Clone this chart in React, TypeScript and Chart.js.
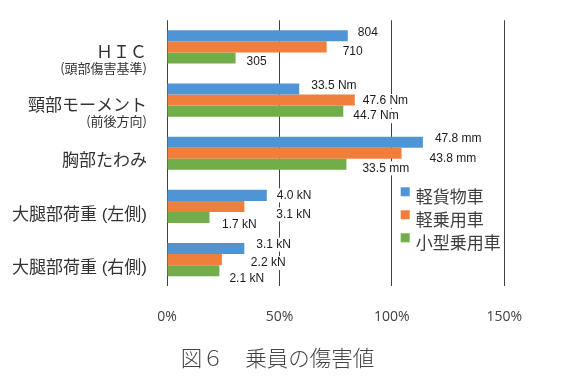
import React, { useEffect, useRef } from 'react';
import { Chart, registerables } from 'chart.js';

Chart.register(...registerables);

// ---- data ----
const categoryMain = ['ＨＩＣ', '頸部モーメント', '胸部たわみ', '大腿部荷重 (左側)', '大腿部荷重 (右側)'];
const categorySub = ['(頭部傷害基準)', '(前後方向)', '', '', ''];
const seriesNames = ['軽貨物車', '軽乗用車', '小型乗用車'];
// percentage of the injury criterion
const keiCargo = [80.4, 58.8, 113.8, 44.4, 34.4];
const keiPassenger = [71.0, 83.5, 104.3, 34.4, 24.4];
const smallPassenger = [30.5, 78.4, 79.8, 18.9, 23.3];
// actual measured values shown as labels
const keiCargoLabels = ['804', '33.5 Nm', '47.8 mm', '4.0 kN', '3.1 kN'];
const keiPassengerLabels = ['710', '47.6 Nm', '43.8 mm', '3.1 kN', '2.2 kN'];
const smallPassengerLabels = ['305', '44.7 Nm', '33.5 mm', '1.7 kN', '2.1 kN'];
const xTickValues = [0, 50, 100, 150];
const titleText = '図６　乗員の傷害値';

// ---- style / layout ----
const seriesColors = ['#4f95d6', '#f07f3c', '#72ad4b'];
const valueLabels = [keiCargoLabels, keiPassengerLabels, smallPassengerLabels];
// label nudge relative to bar end / bar centre [dx, dy]
const labelNudges = [
  [[10, -3.5], [12, -3], [12, -3], [10, 0], [12, -4]],
  [[16, 5], [8, 1], [28, 5], [32, 8], [29, 3.5]],
  [[11, 4], [10, 5], [16, 4], [12.5, 7], [10, 8]],
];
const CJK = "'Noto Sans CJK JP', sans-serif";
const LATIN_CJK = "'Liberation Sans', 'Noto Sans CJK JP', sans-serif";

const overlayPlugin = {
  id: 'overlay',
  afterDatasetsDraw(chart: any) {
    const ctx = chart.ctx as CanvasRenderingContext2D;
    const area = chart.chartArea;
    const yScale = chart.scales.y;
    ctx.save();

    // value labels
    ctx.font = "12px 'Liberation Sans', Arial, sans-serif";
    ctx.textBaseline = 'middle';
    ctx.textAlign = 'left';
    chart.data.datasets.forEach((_ds: any, di: number) => {
      const meta = chart.getDatasetMeta(di);
      meta.data.forEach((bar: any, i: number) => {
        const [dx, dy] = labelNudges[di][i];
        const text = valueLabels[di][i];
        const x = bar.x + dx;
        const y = bar.y + dy;
        const w = ctx.measureText(text).width;
        ctx.fillStyle = '#ffffff';
        ctx.fillRect(x - 2, y - 7, w + 4, 14);
        ctx.fillStyle = '#1a1a1a';
        ctx.fillText(text, x, y);
      });
    });

    // category labels
    ctx.textAlign = 'right';
    ctx.fillStyle = '#333333';
    categoryMain.forEach((label, i) => {
      const cy = yScale.getPixelForValue(i);
      const hasSub = categorySub[i] !== '';
      ctx.font = `17px ${LATIN_CJK}`;
      ctx.fillText(label, area.left - 20, cy + (hasSub ? 6.5 : 8.5));
      if (hasSub) {
        ctx.font = `13px ${CJK}`;
        ctx.fillText(categorySub[i], area.left - 20, cy + 21);
      }
    });

    // legend
    const lx = area.left + 233.7;
    const ly = area.top + 167;
    ctx.textAlign = 'left';
    ctx.font = `17px ${CJK}`;
    seriesNames.forEach((name, i) => {
      const top = ly + i * 23;
      ctx.fillStyle = seriesColors[i];
      ctx.fillRect(lx, top, 9, 9);
      ctx.fillStyle = '#404040';
      ctx.fillText(name, lx + 15, top + 9.5);
    });

    // figure caption
    ctx.textAlign = 'center';
    ctx.font = `300 21.5px ${CJK}`;
    ctx.fillStyle = '#444444';
    ctx.fillText(titleText, chart.width / 2 - 4, 358);

    ctx.restore();
  },
};

export default function App() {
  const canvasRef = useRef<HTMLCanvasElement>(null);

  useEffect(() => {
    if (!canvasRef.current) return;
    const seriesData = [keiCargo, keiPassenger, smallPassenger];
    const chart = new Chart(canvasRef.current, {
      type: 'bar',
      data: {
        labels: categoryMain,
        datasets: seriesNames.map((name, i) => ({
          label: name,
          data: seriesData[i],
          backgroundColor: seriesColors[i],
          borderWidth: 0,
          barPercentage: 1,
          categoryPercentage: 0.625,
        })),
      },
      options: {
        indexAxis: 'y',
        animation: false,
        responsive: false,
        layout: { padding: { left: 167, right: 58.7, top: 20.3, bottom: 37 } },
        scales: {
          x: {
            min: 0,
            max: 150,
            afterBuildTicks: (scale: any) => {
              scale.ticks = xTickValues.map((v) => ({ value: v }));
            },
            grid: { color: '#404040', lineWidth: 1, drawTicks: false },
            border: { display: false },
            ticks: {
              padding: 22.5,
              color: '#404040',
              font: { family: "'Open Sans', sans-serif", size: 14 },
              callback: (v: any) => `${v}%`,
            },
          },
          y: { display: false },
        },
        plugins: {
          legend: { display: false },
          tooltip: { enabled: false },
          title: { display: false },
        },
      },
      plugins: [overlayPlugin],
    });
    return () => chart.destroy();
  }, []);

  return (
    <div style={{ position: 'fixed', left: 0, top: 0, width: 563, height: 385, background: '#fff' }}>
      <canvas ref={canvasRef} width={563} height={385} style={{ display: 'block' }} />
    </div>
  );
}
